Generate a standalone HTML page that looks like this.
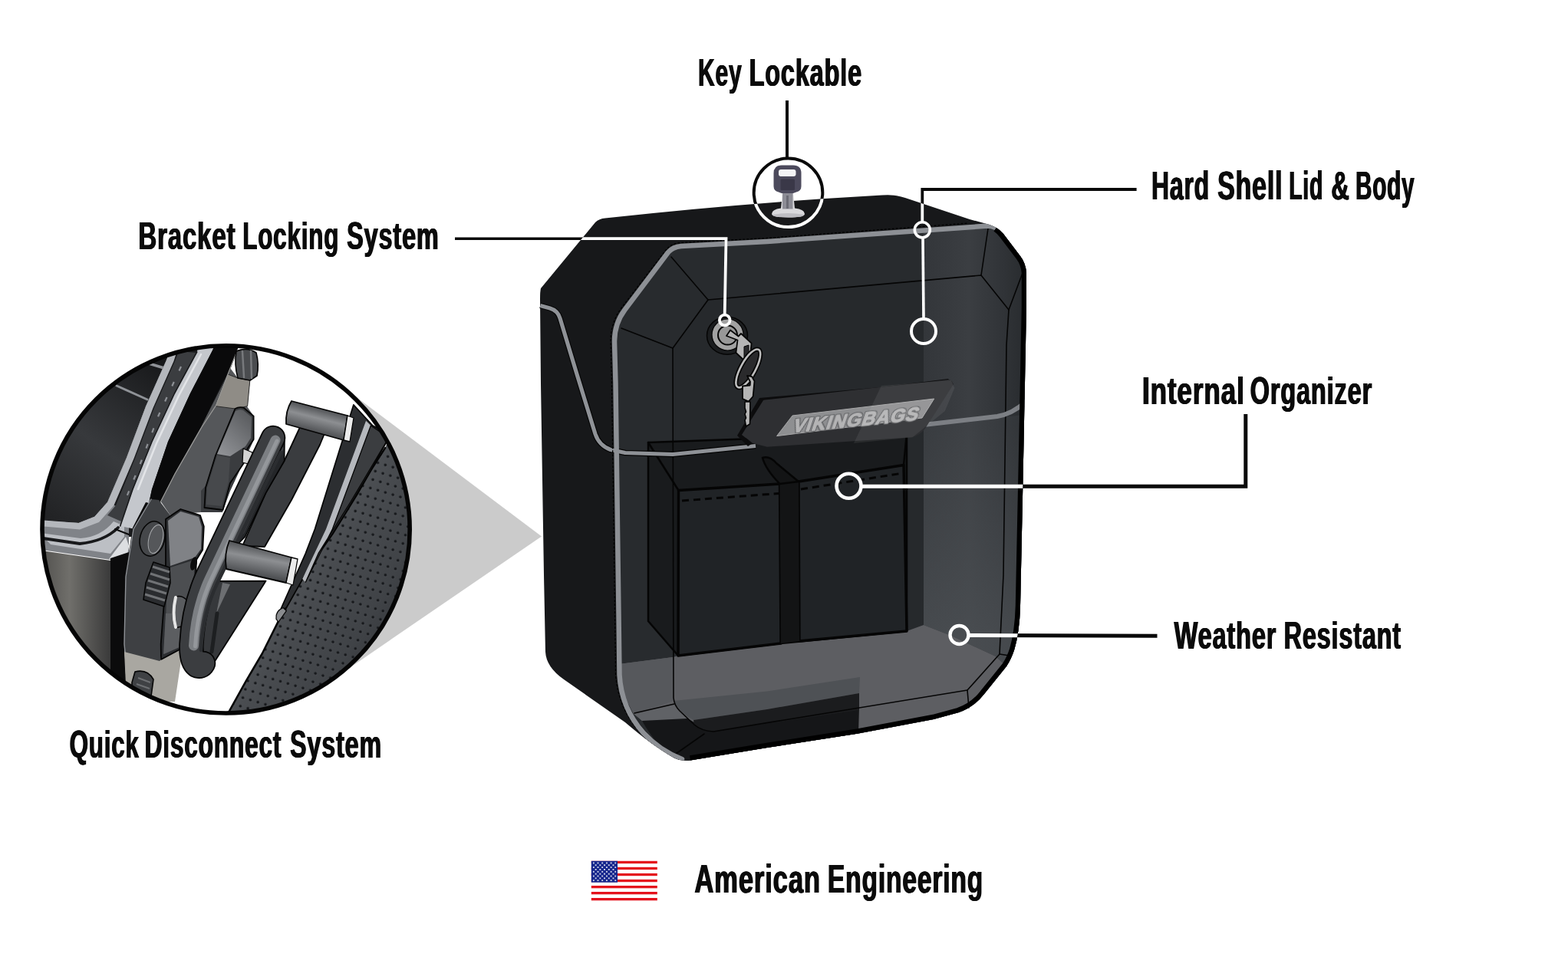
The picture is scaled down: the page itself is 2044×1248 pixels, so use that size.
<!DOCTYPE html>
<html lang="en">
<head>
<meta charset="utf-8">
<title>Viking Bags Features</title>
<style>
html,body{margin:0;padding:0;background:#fff;}
body{width:2044px;height:1248px;position:relative;overflow:hidden;font-family:"Liberation Sans",sans-serif;}
#art{position:absolute;left:0;top:0;width:2044px;height:1248px;display:block;}
.lbl{position:absolute;white-space:nowrap;font-weight:bold;font-size:50px;line-height:50px;color:#0b0b0b;
 transform-origin:0 0;transform:scaleX(0.67);letter-spacing:1.3px;word-spacing:0px;
 text-shadow:0.9px 0 0 #0b0b0b,-0.9px 0 0 #0b0b0b;}
.lbl span{display:inline-block;transform-origin:0 50%;}
</style>
</head>
<body>
<svg id="art" width="2044" height="1248" viewBox="0 0 2044 1248">
<defs>
<pattern id="stars" x="770.95" y="1122.55" width="5.7" height="5.7" patternUnits="userSpaceOnUse">
<circle cx="2.85" cy="2.85" r="1.05" fill="#fff"/>
<circle cx="0" cy="0" r="1.05" fill="#fff"/><circle cx="5.7" cy="0" r="1.05" fill="#fff"/><circle cx="0" cy="5.7" r="1.05" fill="#fff"/><circle cx="5.7" cy="5.7" r="1.05" fill="#fff"/>
</pattern>
<linearGradient id="gwall" x1="1204" y1="0" x2="1335" y2="0" gradientUnits="userSpaceOnUse">
<stop offset="0" stop-color="#33363a"/><stop offset="0.45" stop-color="#3b3e42"/><stop offset="0.8" stop-color="#303337"/><stop offset="1" stop-color="#292c2f"/>
</linearGradient>
<clipPath id="clipsil"><path d="M705,376 L776,290 Q781,285 789,284.5 Q970,264.5 1150,254.5 Q1166,253 1180,258 L1264,286 L1290,293 Q1300,296 1308,305 L1330,334 Q1337,343 1338,356 L1338,400 L1334,600 L1330,790 Q1329,825 1322,848 Q1318,860 1312,869 L1283,905 Q1270,922 1250,929 L1217,938 L1119,956.4 L1000,975 L900,991.5 Q888,993 878,988 Q850,972 815,942 L735,886 Q712,870 711,850 L709,750 L705,500 L704,390 Q704,380 705,376 Z"/></clipPath>
<clipPath id="clipc"><circle cx="294.6" cy="690.4" r="240"/></clipPath>
<pattern id="dots" width="24.5" height="27.5" patternUnits="userSpaceOnUse" patternTransform="rotate(16.5)">
<circle cx="8" cy="8" r="4.7" fill="#15171a"/><circle cx="8.8" cy="9" r="5.2" fill="none" stroke="#5d6064" stroke-width="1" opacity="0.5"/>
</pattern>
<linearGradient id="gleather" x1="700" y1="700" x2="1200" y2="1000" gradientUnits="userSpaceOnUse">
<stop offset="0" stop-color="#35373a"/><stop offset="0.15" stop-color="#55585c"/><stop offset="0.4" stop-color="#484b4f"/><stop offset="0.7" stop-color="#404347"/><stop offset="1" stop-color="#303236"/>
</linearGradient>
<linearGradient id="gplate" x1="650" y1="100" x2="350" y2="1100" gradientUnits="userSpaceOnUse">
<stop offset="0" stop-color="#8a8882"/><stop offset="0.5" stop-color="#5f5e5a"/><stop offset="1" stop-color="#a9a7a1"/>
</linearGradient>
<linearGradient id="gpanel" x1="420" y1="100" x2="60" y2="560" gradientUnits="userSpaceOnUse">
<stop offset="0" stop-color="#17181a"/><stop offset="0.55" stop-color="#37393c"/><stop offset="1" stop-color="#222325"/>
</linearGradient>
<linearGradient id="gbox" x1="40" y1="0" x2="250" y2="0" gradientUnits="userSpaceOnUse">
<stop offset="0" stop-color="#4a4946"/><stop offset="0.45" stop-color="#5e5c58"/><stop offset="1" stop-color="#2f2f2f"/>
</linearGradient>
<linearGradient id="gpeg" x1="820" y1="230" x2="800" y2="310" gradientUnits="userSpaceOnUse">
<stop offset="0" stop-color="#505255"/><stop offset="0.4" stop-color="#8d8f92"/><stop offset="1" stop-color="#4a4c4f"/>
</linearGradient>
<linearGradient id="gpeg2" x1="640" y1="660" x2="620" y2="750" gradientUnits="userSpaceOnUse">
<stop offset="0" stop-color="#505255"/><stop offset="0.4" stop-color="#8d8f92"/><stop offset="1" stop-color="#4a4c4f"/>
</linearGradient>
<linearGradient id="gpanel2" x1="210" y1="470" x2="60" y2="670" gradientUnits="userSpaceOnUse">
<stop offset="0" stop-color="#17181a"/><stop offset="0.55" stop-color="#37393c"/><stop offset="1" stop-color="#222325"/>
</linearGradient>
<linearGradient id="gbox2" x1="55" y1="0" x2="144" y2="0" gradientUnits="userSpaceOnUse">
<stop offset="0" stop-color="#53524f"/><stop offset="0.4" stop-color="#706f6b"/><stop offset="1" stop-color="#3a3a3a"/>
</linearGradient>
<linearGradient id="gblock" x1="285" y1="590" x2="328" y2="545" gradientUnits="userSpaceOnUse">
<stop offset="0" stop-color="#909296"/><stop offset="1" stop-color="#5b5d60"/>
</linearGradient>
<linearGradient id="gpegA" x1="383" y1="524" x2="375" y2="556" gradientUnits="userSpaceOnUse">
<stop offset="0" stop-color="#505255"/><stop offset="0.4" stop-color="#8d8f92"/><stop offset="1" stop-color="#4a4c4f"/>
</linearGradient>
<linearGradient id="gpegB" x1="303" y1="706" x2="296" y2="744" gradientUnits="userSpaceOnUse">
<stop offset="0" stop-color="#505255"/><stop offset="0.4" stop-color="#8d8f92"/><stop offset="1" stop-color="#4a4c4f"/>
</linearGradient>
<linearGradient id="gwall2" x1="0" y1="556" x2="0" y2="830" gradientUnits="userSpaceOnUse">
<stop offset="0" stop-color="#4a4e52" stop-opacity="0.25"/><stop offset="1" stop-color="#4d5155" stop-opacity="0.75"/>
</linearGradient>
<filter id="outl" x="-5%" y="-20%" width="110%" height="140%">
<feMorphology in="SourceAlpha" operator="dilate" radius="0.9" result="dil"/>
<feFlood flood-color="#5c5d60"/>
<feComposite operator="in" in2="dil" result="ol"/>
<feMerge><feMergeNode in="ol"/><feMergeNode in="SourceGraphic"/></feMerge>
</filter>

</defs>
<rect width="2044" height="1248" fill="#fff"/>
<polygon points="706,699.5 438.8,498.5 294.6,690.4 430.2,888.4" fill="#cbcbcb"/>

<g id="bag" stroke-linejoin="round" stroke-linecap="round">
<!-- outer silhouette -->
<path id="sil" d="M705,376 L776,290 Q781,285 789,284.5 Q970,264.5 1150,254.5 Q1166,253 1180,258 L1264,286 L1290,293 Q1300,296 1308,305 L1330,334 Q1337,343 1338,356 L1338,400 L1334,600 L1330,790 Q1329,825 1322,848 Q1318,860 1312,869 L1283,905 Q1270,922 1250,929 L1217,938 L1119,956.4 L1000,975 L900,991.5 Q888,993 878,988 Q850,972 815,942 L735,886 Q712,870 711,850 L709,750 L705,500 L704,390 Q704,380 705,376 Z" fill="#17181a"/>
<!-- front face -->
<path id="face" d="M889,990 Q870,984 850,962 Q812,925 807,885 L805,800 L801,500 L799,436 Q800,416 812,401 L870,329 Q876,322 887,321 L1000,315 L1288,294 Q1300,295 1308,305 L1330,334 Q1337,343 1338,356 L1338,400 L1334,600 L1330,790 Q1329,825 1322,848 Q1318,860 1312,869 L1283,905 Q1270,922 1250,929 L1217,938 L1119,956.4 L1000,975 L900,991.5 Z" fill="#282b2e"/>
<!-- inner panel slightly darker -->
<path d="M923,391 L877,454 L878,910 Q879,920 886,927 L905,945 Q914,953 930,954 L1261,900 L1303,853 L1308,750 L1312,450 L1315,404 L1279,359 Z" fill="#26292c"/>
<!-- right lighter wall -->
<path d="M1204,300 L1288,294 Q1300,295 1308,305 L1330,334 Q1337,343 1338,356 L1334,600 L1330,790 Q1329,825 1322,848 L1312,869 L1298,856 L1240,829 L1204,815 Z" fill="url(#gwall)"/>
<path d="M1204,556 L1334,541 L1330,790 Q1329,825 1322,848 L1312,869 L1298,856 L1240,829 L1204,815 Z" fill="url(#gwall2)"/>
<!-- floor -->
<path d="M807,866 L877,857 L884,855 L1018,839 L1182,823 L1204,815 L1240,829 L1298,856 L1312,869 L1283,905 Q1270,922 1250,929 L1217,938 L1119,956.4 L1000,975 L880,975 L826,931 Q812,905 807,885 Z" fill="#5d5e62"/>
<path d="M807,866 L877,857 L878,914 L826,931 Q812,905 807,885 Z" fill="#56585c"/>
<path d="M878,914 L1000,901.5 L1121,883 L1120,904 L1000,925 L904,939 Q886,930 878,914 Z" fill="#4e5155"/>
<path d="M828,931.5 L877,919 L896,937 L837,940 Z" fill="#606266"/>
<path d="M837,940 L896,937 L905,942 L930,950 L1120,922 L1119,956.4 L1000,975 L900,991.5 Q888,993 878,988 Q855,972 837,940 Z" fill="#151618"/>
<path d="M904,939 L1000,925 L1120,904 L1120,926 L930,954 Q914,953 905,945 Z" fill="#1b1c1e"/>
<!-- pockets -->
<path d="M845,577 L1182,565 L1182,823 L1018,839 L884,855 L845,810 Z" fill="#191b1d" stroke="#050505" stroke-width="2.5"/>
<path d="M884.5,639.5 L1016.5,631 L1018,839 L884,855 Z" fill="#202326" stroke="#050505" stroke-width="3.4"/>
<path d="M1041,628 L1178,606.5 L1182,823 L1042,836 Z" fill="#202326" stroke="#050505" stroke-width="3.4"/>
<path d="M845,577 L884.5,639.5 M1182,565 L1178,606.5" stroke="#050505" stroke-width="2.5" fill="none"/>
<path d="M1016.5,631 L1041,628 L1042,836 L1018,839 Z" fill="#131415"/>
<path d="M994,597 Q1003,594 1012,604 L1041,628 L1016.5,631 Q998,612 994,597 Z" fill="#131415" stroke="#050505" stroke-width="2.5"/>
<path d="M889,653 L1015,643.5" stroke="#050505" stroke-width="3" stroke-dasharray="9 6" fill="none" stroke-linecap="butt"/>
<path d="M1044,638 L1177,617" stroke="#050505" stroke-width="3" stroke-dasharray="9 6" fill="none" stroke-linecap="butt"/>
<!-- bevel & panel lines -->
<g fill="none" stroke="#050505" stroke-width="1.6">
<path d="M923,391 L877,454 L878,910 Q879,920 886,927 L905,945 Q914,953 930,954 L1261,900 L1303,853 L1308,750 L1312,450 L1315,404 L1279,359 Z"/>
<path d="M875,335 L923,391 M810,428 L877,454 M1288,298 L1279,359 M1333,356 L1315,404 M827,930 L879,918 M881,983 L918,957 M1261,900 L1263,923 M1303,853 L1316,855"/>
</g>
<!-- gray trim -->
<path d="M704.3,398.5 L717,402 Q727,405 730,415 L752,488 L776,566 Q781,581 796,586.5 L815,590.5 L877,592.5 L985,581.5" fill="none" stroke="#050505" stroke-width="7.5" stroke-linecap="butt"/>
<path d="M704.3,398.5 L717,402 Q727,405 730,415 L752,488 L776,566 Q781,581 796,586.5 L815,590.5 L877,592.5 L985,581.5" fill="none" stroke="#8f9297" stroke-width="5.2" stroke-linecap="butt"/>
<path d="M1204,554 L1300,543 Q1320,540 1338,523" fill="none" stroke="#7c7f84" stroke-width="6" clip-path="url(#clipsil)"/>
<path d="M885,990 Q858,980 836,957 Q806,925 802.5,880 L801.5,800 L797.5,500 L796,445 Q796,420 810.5,401 L868,326 Q875,317 888,316.5 L1000,310.5 L1262,291" fill="none" stroke="#000" stroke-width="1.3" stroke-dasharray="3 2" stroke-linecap="butt" clip-path="url(#clipsil)"/>
<path d="M889,990 Q860,979 839,956 Q810,924 807.5,880 L806.5,800 L802.5,500 L801,445 Q801,422 814.5,404 L871,329 Q877,322 888,321 L1000,315 L1288,294.5 Q1297,295 1304,301" fill="none" stroke="#8d9095" stroke-width="6.5" clip-path="url(#clipsil)"/>
<!-- right black edge -->
<path d="M1299,296.5 Q1304,300 1308,305 L1330,334 Q1337,343 1338,356 L1338,400 L1334,600 L1330,790 Q1329,825 1322,848 Q1318,860 1312,869 L1283,905 Q1270,922 1250,929 L1217,938 L1119,956.4 L1000,975 L900,991.5" fill="none" stroke="#000" stroke-width="12.5" clip-path="url(#clipsil)" stroke-linecap="butt"/>
</g>

<g id="badge">
<path d="M961,568 L990,519 L1148,505 L1236,494 L1243,501 L995,522 L967,567 L981,578 L975,582 Z" fill="#0c0c0d"/>
<path d="M967.2,567 L995.4,521.7 L1236.5,495 Q1242,496 1242.8,501.3 L1206.7,557.7 Q1200,568 1188,570.2 L1000,582.7 L981.3,578 Z" fill="#2e2f32"/>
<path d="M1012.6,568.6 L1033,542 L1217.7,520 L1202,545 Z" fill="#8e8f91" stroke="#a9a9aa" stroke-width="1"/>
<text transform="translate(1032,564) rotate(-5.7) skewX(-24) scale(1.045,1)" font-family="Liberation Sans, sans-serif" font-weight="700" font-size="23.5" fill="#b4b4b5" stroke="#b4b4b5" stroke-width="1.2" stroke-linejoin="round" letter-spacing="0.9" filter="url(#outl)">VIKINGBAGS</text>
<path d="M1113,578 L1149,503 L1239.6,496 L1244.3,506 L1231.8,536 L1189.5,570.2 Z" fill="#fff" opacity="0.07"/>
</g>
<g id="lock">
<ellipse cx="948" cy="437.7" rx="26.5" ry="24.5" fill="#1b1d1f" stroke="#050505" stroke-width="1.5"/>
<circle cx="948.5" cy="436.5" r="20.5" fill="#a2a2a2" stroke="#050505" stroke-width="1.2"/>
<circle cx="948.5" cy="437" r="12.5" fill="#989898" stroke="#050505" stroke-width="2"/>
<path d="M947,438 L952,430.5 L962.5,438.5 L966,435 L979.6,447.7 L977.7,466 L970,470 L959.4,460 L961.5,443.5 Z" fill="#b5b5b5" stroke="#050505" stroke-width="1.8" stroke-linejoin="round"/>
<path d="M970,452 L976,450 L976,466 L970,469 Z" fill="#2a2a2c" stroke="#050505" stroke-width="1"/>
<g transform="translate(975.3,480.4) rotate(-61)">
<ellipse cx="0" cy="0" rx="28" ry="9.5" fill="#2a2a2c" stroke="#050505" stroke-width="6"/>
<ellipse cx="0" cy="0" rx="28" ry="9.5" fill="none" stroke="#bdbdbd" stroke-width="2.6"/>
</g>
<path d="M974,490 L980,491 L983.5,497 L981.6,517 L975.8,523.6 L968,520 L968,503.5 L977.7,502.5 L978,498 Z" fill="#b5b5b5" stroke="#050505" stroke-width="1.8" stroke-linejoin="round"/>
<path d="M971,524 L978,524 L977.5,553 L972.5,556 L971,548 L972.5,545 L971,540 L972.5,537 L971,532 Z" fill="#b5b5b5" stroke="#050505" stroke-width="1.6" stroke-linejoin="round"/>
</g>
<g id="keyicon">
<path d="M1006,279 Q1006,273 1018,271.5 L1020,252 L1034,252 L1036,271.5 Q1049,273 1049,279 Q1049,283.5 1027.5,283.5 Q1006,283.5 1006,279 Z" fill="#d9d9dc"/>
<path d="M1007,280 Q1027,276 1048,280 Q1048,283.5 1027.5,283.5 Q1007,283.5 1007,280 Z" fill="#bdbdc2"/>
<rect x="1020" y="250" width="13.5" height="22.5" fill="#8d8d96"/>
<rect x="1025" y="255" width="3" height="17" fill="#6b6b75"/>
<path d="M1008.5,226 Q1008.5,215.5 1019,215.5 L1034,215.5 Q1044.5,215.5 1044.5,226 L1044.5,243 Q1044.5,249 1038,250.5 L1034,252 L1019,252 L1015,250.5 Q1008.5,249 1008.5,243 Z" fill="#4c4a5c"/>
<rect x="1015" y="221" width="22.5" height="9" rx="3" fill="#f4f4f6"/>
<rect x="1017.5" y="233.5" width="18.5" height="14.5" rx="1.5" fill="#3a3848"/>
</g>
<g id="calls" fill="none" stroke-linecap="butt" stroke-linejoin="miter">
<!-- key lockable -->
<path d="M1026,131 L1026,207" stroke="#0a0a0a" stroke-width="4"/>
<circle cx="1027.5" cy="251.3" r="44.8" stroke="#0a0a0a" stroke-width="4"/>
<circle cx="1027.5" cy="251.3" r="44.8" stroke="#fff" stroke-width="4" clip-path="url(#clipsil)"/>
<!-- bracket locking -->
<path d="M593,311.2 L946.5,311.2 L944.7,410" stroke="#0a0a0a" stroke-width="3.6"/>
<path d="M593,311.2 L946.5,311.2 L944.7,410" stroke="#fff" stroke-width="3.8" clip-path="url(#clipsil)"/>
<circle cx="944.7" cy="417.5" r="6.8" stroke="#fff" stroke-width="3.8"/>
<!-- hard shell -->
<path d="M1481.6,247 L1202.3,247 L1202.3,289" stroke="#0a0a0a" stroke-width="3.8"/>
<path d="M1202.3,247 L1202.3,289" stroke="#fff" stroke-width="3.8" clip-path="url(#clipsil)"/>
<circle cx="1202.3" cy="299.8" r="10" stroke="#fff" stroke-width="3.6"/>
<path d="M1203,310 L1204,416" stroke="#fff" stroke-width="3.6"/>
<circle cx="1204" cy="432" r="16" stroke="#fff" stroke-width="4"/>
<!-- internal organizer -->
<path d="M1623.8,540 L1623.8,634.2 L1124,634.2" stroke="#0a0a0a" stroke-width="5"/>
<path d="M1623.8,634.2 L1124,634.2" stroke="#fff" stroke-width="5" clip-path="url(#clipsil)"/>
<circle cx="1106.5" cy="633.8" r="16" stroke="#fff" stroke-width="4.6"/>
<!-- weather resistant -->
<path d="M1508.5,829.2 L1264,828.6" stroke="#0a0a0a" stroke-width="5"/>
<path d="M1508.5,829.2 L1264,828.6" stroke="#fff" stroke-width="5" clip-path="url(#clipsil)"/>
<circle cx="1250.5" cy="828" r="12" stroke="#fff" stroke-width="4.4"/>
</g>

<g id="detail">
<circle cx="294.6" cy="690.4" r="240" fill="#fff"/>
<g clip-path="url(#clipc)" stroke-linejoin="round" stroke-linecap="round">
<g transform="translate(40,430) scale(0.416667)">
<!-- leather -->
<path d="M1125,330 L1109,370 L1064,440 L1024,510 L984,575 L944,639 L874,739 L824,824 L774,914 L724,1014 L674,1099 L610,1215 L1248,1248 L1248,300 Z" fill="url(#gleather)"/>
<path d="M1125,330 L1109,370 L1064,440 L1024,510 L984,575 L944,639 L874,739 L824,824 L774,914 L724,1014 L674,1099 L610,1215 L1248,1248 L1248,300 Z" fill="url(#dots)"/>
<path d="M1109,370 L1064,440 L1024,510 L984,575 L944,639 L874,739 L824,824 L774,914 L724,1014 L674,1099 L615,1205" fill="none" stroke="#050505" stroke-width="6"/>
<!-- side strips -->
<path d="M1010,235 L1070,300 L1125,330 L1064,440 L984,575 L944,639 L874,739 L800,870 L780,880 L860,700 L889,624 Z" fill="#2c2e31" stroke="#050505" stroke-width="4"/>
<path d="M1049,285 L1064,300 L944,624 L860,790 L850,780 L924,624 Z" fill="#b5b8bd"/>
<path d="M1064,300 L1120,338 L1000,540 L900,700 L860,790 L944,624 Z" fill="#3b3d40" stroke="#050505" stroke-width="3"/>
<path d="M790,870 Q765,880 768,905 L775,915 L800,880 Z" fill="#8a8c8f" stroke="#050505" stroke-width="3"/>
</g>
<!-- plate (dark gray) -->
<path d="M300,480 L310,493 L326,496 L322,530 L331,543 L331,573 L300,640 L290,665 L262,668 L222,672 L200,640 L215,610 L263,555 Z" fill="#55575a"/>
<path d="M262,640 L300,600 L322,585 L331,573 L300,640 L290,668 L262,668 Z" fill="#3a3c3f"/>
<!-- beige plate top -->
<path d="M297,488 L309.7,493 L325.8,496 L322.6,529.7 L306.5,533 L281,529.7 Z" fill="#8f8c86" stroke="#2a2a2a" stroke-width="1"/>
<!-- left dark panel -->
<path d="M40,430 L225,450 L217,469.6 L190,530 L165,596.7 L140,655 L123.3,673.75 L102.5,682 L40,678 Z" fill="url(#gpanel2)"/>
<path d="M152,503 L192,521" stroke="#8f9297" stroke-width="3" fill="none"/>
<path d="M194,474 L214,480" stroke="#8f9297" stroke-width="3.5" fill="none"/>
<!-- dark underlay for trims -->
<path d="M217,469.6 L230,450 L300,450 L300,482 L263,555 L227.5,617.5 L206.7,659 L190,700 L150,700 L60,690 L56.7,678 L102.5,682 L123.3,673.75 L140,655 L165,596.7 L190,530 Z" fill="#1a1b1d"/>
<!-- chrome corner -->
<path d="M40,678 L102.5,682 L123.3,673.75 L140,655 L156,662 L168,688 L168,723 L144,730 L40,715 Z" fill="#808388"/>
<path d="M52,695 L105,702 Q132,700 148,680 L162,686 L162,700 L144,722 L66,710 Z" fill="#bcbfc4"/>
<path d="M56,702 L104,709 Q136,706 154,688" fill="none" stroke="#18191b" stroke-width="3.8"/>
<path d="M142,729 L164,700 L168,712 L166,724 Z" fill="#dcdee1"/>
<path d="M150,690 L168,697" stroke="#0b0b0c" stroke-width="2" fill="none"/>
<!-- trim1 -->
<path d="M221,460 L217,469.6 L190,530 L165,596.7 L140,655 L123.3,673.75 L102.5,682 L50,678 L50,686 L104,690.5 L129,681 L148.5,659 L174.5,598 L199.5,532 L226.5,471 L230,460 Z" fill="#b4b7bc"/>
<!-- groove -->
<path d="M233,458 L228,471 L201,532 L176,598 L151,659 L140,672 L158,680 L173,640 L198,578 L227.5,515 L256.7,460 Z" fill="#3b3d40"/>
<path d="M236,478 L207,541 L182,607 L160,660" fill="none" stroke="#8d9095" stroke-width="2.2" stroke-dasharray="6 16" stroke-linecap="butt"/>
<!-- trim2 -->
<path d="M259,450 L256.7,459 L227.5,513 L198,576 L173,638 L156.7,686 L186,692 L198,638 L219,576 L248,513 L277.5,456 L280,448 Z" fill="#c4c7cc"/>
<path d="M256.7,459 L227.5,513 L198,576 L173,638 L156.7,686" fill="none" stroke="#18191b" stroke-width="1.6"/>
<path d="M262,462 L233,516 L204,578 L180,638" fill="none" stroke="#e3e5e8" stroke-width="2.5"/>
<!-- black band -->
<path d="M280,448 L277.5,456 L248,513 L219,576 L198,638 L193,662 L206.7,659 L227.5,617.5 L263,555 L290,498.75 L300,482 L309.7,456 L312,445 Z" fill="#0a0a0b"/>
<path d="M309.7,456 L297,488 L281,529.7 L263,557 L228,618 L207,659" fill="none" stroke="#9a9a98" stroke-width="1.2"/>
<!-- lower box -->
<path d="M40,716 L144,731 L144,900 L40,900 Z" fill="url(#gbox2)"/>
<!-- black strip -->
<path d="M144,728 L168,720 L173,688 L190,655 L207,659 L197,651 L180,690 L166,752 L162,840 L165,900 L144,900 Z" fill="#0b0b0c"/>
<!-- dark curved plate -->
<path d="M207,652 L222,672 L216,739 L216,784 L210,840 L208,880 L166,880 L162,840 L164,752 L174,690 L197,651 Z" fill="#3e4043"/>
<path d="M197,651 L174,690 L164,752 L162,840 L166,880" fill="none" stroke="#8d9095" stroke-width="1.4"/>
<!-- bottom beige plate and bolt -->
<path d="M162,850 L208,862 L232,845 L240,835 L228,915 L165,915 Z" fill="#a9a7a1"/>
<path d="M176,876 Q192,872 200,886 L196,915 L172,915 L172,890 Z" fill="#3f4144" stroke="#050505" stroke-width="1.6"/>
<path d="M180,884 L196,890 M178,892 L195,898 M177,900 L194,906" stroke="#6d6f72" stroke-width="2" fill="none" stroke-linecap="butt"/>
<!-- top bolt -->
<path d="M308,458 Q322,452 334,460 Q338,475 335,490 L326,496 L310,493 Q305,475 308,458 Z" fill="#4a4c4f" stroke="#050505" stroke-width="1.6"/>
<path d="M316,458 L318,492 M327,458 L328,493" stroke="#77797c" stroke-width="2.5" fill="none"/>
<!-- upper block -->
<path d="M306.5,533 Q312,530 318,532 L330.6,542.6 L330.6,573 L322.6,585 L317.8,604 L300,630 L290.5,665 L266.5,662 L268,636 L281,594 Z" fill="#3a3c3f" stroke="#050505" stroke-width="1.8"/>
<path d="M307,536 Q312,533 317,535 L328,544 L327,571 L320,582 L300,595 L283,592 Z" fill="url(#gblock)"/>
<path d="M283,594 L300,597 L298,628 L289,660 L269,658 L270,636 Z" fill="#47494c"/>
<path d="M317,585 L329,590 L327,606 L316,603 Z" fill="#d4d4d4" stroke="#050505" stroke-width="1.2"/>
<!-- lower block -->
<path d="M216,677 L235.4,664 L261,672 L265.8,686.5 L264.2,717 L256.2,729.7 L253,784 L241.8,800 L238,845 L210,860 L209.7,840 L214,784 L216,739 Z" fill="#2c2e31" stroke="#050505" stroke-width="1.8"/>
<path d="M219,679 L235.4,667 L259,674 L263,687 L262,716 L254,727 L222,738 Z" fill="#808286"/>
<path d="M222,740 L254,730 L251,783 L240,798 L236,843 L214,853 L217,784 Z" fill="#4c4e51"/>
<path d="M216,800 L240,800 L236,843 L213,853 Z" fill="#5c5e61"/>
<ellipse cx="252.5" cy="735" rx="4" ry="9" transform="rotate(14 252.5 735)" fill="#0c0c0d"/>
<!-- bolt head -->
<ellipse cx="198.5" cy="702.5" rx="16" ry="23" transform="rotate(14 198.5 702.5)" fill="#45474a" stroke="#050505" stroke-width="1.6"/>
<ellipse cx="203" cy="703" rx="9" ry="19" transform="rotate(14 203 703)" fill="#55575a" stroke="#a6a8ab" stroke-width="1"/>
<!-- knob -->
<path d="M200,733 L221,740 L222,760 L214,791 L187,782 L190,760 Z" fill="#2a2c2f" stroke="#050505" stroke-width="1.6"/>
<path d="M199,739 L221,746 M196,748 L221,756 M193,757 L219,765 M191,766 L217,774 M189,775 L215,783" stroke="#707275" stroke-width="3" fill="none" stroke-linecap="butt"/>
<!-- pin -->
<path d="M229,778 Q237,776 243,782 L241,816 L228,819 Q222,800 229,778 Z" fill="#5a5c5f" stroke="#050505" stroke-width="1.4"/>
<path d="M229,779 Q224,800 229,818" fill="none" stroke="#e6e6e6" stroke-width="4"/>
<!-- bar -->
<path d="M392,555 L424,563 L417,580 L380,652 L345,713 L316,712 L346.6,642.6 L370.6,601 Z" fill="#3a3c3f" stroke="#050505" stroke-width="1.8"/>
<!-- wedge under lower peg -->
<path d="M262,758 L346.6,757.6 L279.3,863.4 L264,868 L256,852 Z" fill="#36383b" stroke="#050505" stroke-width="1.8"/>
<path d="M290,760 L282,800 L300,762 Z" fill="#6d6f72"/>
<path d="M283,800 L276,850" stroke="#1d1f21" stroke-width="5" fill="none"/>
<!-- ring interior -->
<path d="M350,562 L360,560 L371,574 L370.6,601 L346.6,642.6 L319.4,700 L300,720 L268,724 Z" fill="#242629" stroke="#050505" stroke-width="1.6"/>
<path d="M367,585 L343,636 L316,694" fill="none" stroke="#3f4144" stroke-width="5"/>
<!-- ring tube -->
<path d="M356,571 L270,752 Q252,792 249.5,840 Q248.5,862 256.5,868 Q262,870.5 265,865" fill="none" stroke="#050505" stroke-width="32.5"/>
<path d="M356,571 L270,752 Q252,792 249.5,840 Q248.5,862 256.5,868 Q262,870.5 265,865" fill="none" stroke="#3b3d40" stroke-width="29"/>
<path d="M359,574 L273,755 Q255,794 252.5,842" fill="none" stroke="#7c7f83" stroke-width="13"/>
<path d="M361,575 L275,756 Q257,795 254.5,843" fill="none" stroke="#94979b" stroke-width="5"/>
<path d="M366,590 L283,761 Q265,798 262,848" fill="none" stroke="#2b2d30" stroke-width="4.5"/>
<!-- upper peg -->
<path d="M380,523 Q372,536 373,553 L448,574 L453,542 Z" fill="url(#gpegA)" stroke="#050505" stroke-width="1.8"/>
<path d="M453,542 L461,545 L456,576 L448,574 Z" fill="#ececec" stroke="#050505" stroke-width="1.3"/>
<!-- lower peg -->
<path d="M299,705 Q292,722 295,742 L373,760 L380,727 Z" fill="url(#gpegB)" stroke="#050505" stroke-width="1.8"/>
<path d="M380,727 L388,729 L382,763 L373,760 Z" fill="#ececec" stroke="#050505" stroke-width="1.3"/>
</g>
<circle cx="294.6" cy="690.4" r="239.6" fill="none" stroke="#050505" stroke-width="5.6"/>
</g>

<g id="flag">
<rect x="770.8" y="1122.7" width="86" height="51.7" fill="#fff"/>
<g fill="#e4121c">
<rect x="770.8" y="1122.8" width="86" height="3.3"/>
<rect x="770.8" y="1130.8" width="86" height="3.3"/>
<rect x="770.8" y="1138.9" width="86" height="3.3"/>
<rect x="770.8" y="1146.9" width="86" height="3.3"/>
<rect x="770.8" y="1155" width="86" height="3.3"/>
<rect x="770.8" y="1163" width="86" height="3.3"/>
<rect x="770.8" y="1171" width="86" height="3.3"/>
</g>
<rect x="770.8" y="1122.8" width="34.2" height="27.9" fill="#15258c"/>
<rect x="772.5" y="1124.1" width="31.1" height="25.4" fill="url(#stars)"/>
</g>

</svg>
<div class="lbl" id="t1" style="left:910.46px;top:70.3px;font-size:50px;line-height:50px;transform:scaleX(0.6400);"><span id="t1w0" style="transform:scaleX(0.9403);margin-left:0.41px;">Key</span> <span id="t1w1" style="transform:scaleX(1.0144);margin-left:-6.83px;">Lockable</span></div>
<div class="lbl" id="t2" style="left:180.59px;top:282.7px;font-size:50px;line-height:50px;transform:scaleX(0.6500);"><span id="t2w0" style="transform:scaleX(1.0160);margin-left:-0.82px;">Bracket</span> <span id="t2w1" style="transform:scaleX(0.9659);margin-left:0.73px;">Locking</span> <span id="t2w2" style="transform:scaleX(0.9995);margin-left:-6.58px;">System</span></div>
<div class="lbl" id="t3" style="left:1501.08px;top:216.6px;font-size:51px;line-height:51px;transform:scaleX(0.6200);"><span id="t3w0" style="transform:scaleX(1.0098);margin-left:-0.26px;">Hard</span> <span id="t3w1" style="transform:scaleX(1.0696);margin-left:2.19px;">Shell</span> <span id="t3w2" style="transform:scaleX(0.8990);margin-left:5.92px;">Lid</span> <span id="t3w3" style="transform:scaleX(1.0276);margin-left:-6.52px;">&amp;</span> <span id="t3w4" style="transform:scaleX(0.9406);margin-left:-2.11px;">Body</span></div>
<div class="lbl" id="t4" style="left:1488.61px;top:485.2px;font-size:50px;line-height:50px;transform:scaleX(0.6700);"><span id="t4w0" style="transform:scaleX(1.0446);margin-left:-0.04px;">Internal</span> <span id="t4w1" style="transform:scaleX(0.9704);margin-left:3.60px;">Organizer</span></div>
<div class="lbl" id="t5" style="left:1530.30px;top:804.3px;font-size:50px;line-height:50px;transform:scaleX(0.6500);"><span id="t5w0" style="transform:scaleX(1.0003);margin-left:1.25px;">Weather</span> <span id="t5w1" style="transform:scaleX(0.9957);margin-left:-0.76px;">Resistant</span></div>
<div class="lbl" id="t6" style="left:89.63px;top:945.9px;font-size:50px;line-height:50px;transform:scaleX(0.6400);"><span id="t6w0" style="transform:scaleX(0.9780);margin-left:1.01px;">Quick</span> <span id="t6w1" style="transform:scaleX(0.9884);margin-left:-7.28px;">Disconnect</span> <span id="t6w2" style="transform:scaleX(1.0105);margin-left:-2.31px;">System</span></div>
<div class="lbl" id="t7" style="left:905.63px;top:1120.2px;font-size:52px;line-height:52px;transform:scaleX(0.6600);"><span id="t7w0" style="transform:scaleX(1.0078);margin-left:-0.73px;">American</span> <span id="t7w1" style="transform:scaleX(0.9781);margin-left:-0.56px;">Engineering</span></div>
</body>
</html>
